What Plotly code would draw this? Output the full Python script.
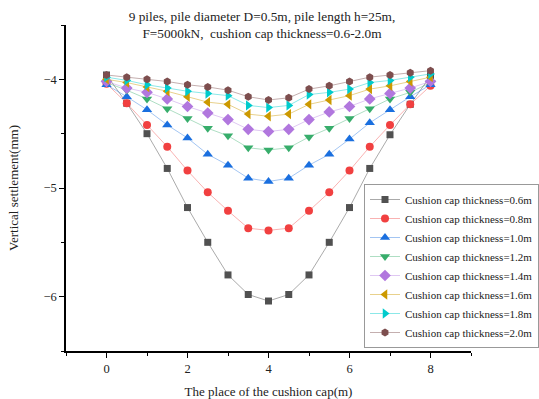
import plotly.graph_objects as go

# Position along the cushion cap (m)
place = [0, 0.5, 1, 1.5, 2, 2.5, 3, 3.5, 4, 4.5, 5, 5.5, 6, 6.5, 7, 7.5, 8]

# Vertical settlement (mm) for each cushion cap thickness
s_06 = [-3.96, -4.22, -4.50, -4.82, -5.18, -5.50, -5.80, -5.98, -6.04, -5.98, -5.80, -5.50, -5.18, -4.82, -4.51, -4.23, -3.97]
s_08 = [-4.04, -4.22, -4.42, -4.62, -4.84, -5.04, -5.21, -5.37, -5.39, -5.37, -5.21, -5.04, -4.84, -4.62, -4.42, -4.23, -4.06]
s_10 = [-4.05, -4.16, -4.28, -4.42, -4.54, -4.69, -4.79, -4.91, -4.94, -4.91, -4.79, -4.69, -4.55, -4.40, -4.28, -4.16, -4.05]
s_12 = [-4.03, -4.10, -4.18, -4.27, -4.36, -4.45, -4.52, -4.63, -4.65, -4.63, -4.53, -4.45, -4.36, -4.27, -4.18, -4.12, -4.03]
s_14 = [-4.02, -4.08, -4.12, -4.18, -4.25, -4.31, -4.37, -4.46, -4.48, -4.46, -4.37, -4.30, -4.25, -4.18, -4.13, -4.08, -4.02]
s_16 = [-4.00, -4.03, -4.07, -4.11, -4.16, -4.21, -4.23, -4.32, -4.34, -4.32, -4.23, -4.19, -4.15, -4.09, -4.06, -4.02, -3.98]
s_18 = [-3.98, -4.01, -4.05, -4.08, -4.11, -4.13, -4.15, -4.24, -4.26, -4.24, -4.14, -4.12, -4.09, -4.03, -4.01, -3.98, -3.95]
s_20 = [-3.96, -3.98, -4.00, -4.02, -4.05, -4.07, -4.10, -4.16, -4.19, -4.17, -4.09, -4.06, -4.02, -3.98, -3.96, -3.94, -3.92]

series_names = [
    "Cushion cap thickness=0.6m",
    "Cushion cap thickness=0.8m",
    "Cushion cap thickness=1.0m",
    "Cushion cap thickness=1.2m",
    "Cushion cap thickness=1.4m",
    "Cushion cap thickness=1.6m",
    "Cushion cap thickness=1.8m",
    "Cushion cap thickness=2.0m",
]
series_values = [s_06, s_08, s_10, s_12, s_14, s_16, s_18, s_20]

colors = ["#515151", "#F14040", "#1A6FDF", "#37AD6B", "#B177DE", "#CC9900", "#00CBCC", "#7D4E4E"]
line_colors = ["rgba(81,81,81,0.55)", "rgba(241,64,64,0.45)", "rgba(26,111,223,0.45)",
               "rgba(55,173,107,0.45)", "rgba(177,119,222,0.45)", "rgba(204,153,0,0.5)",
               "rgba(0,203,204,0.5)", "rgba(125,78,78,0.5)"]
symbols = ["square", "circle", "triangle-up", "triangle-down", "diamond",
           "triangle-left", "triangle-right", "hexagon"]
sizes = [7, 8, 9, 9, 9, 9, 9, 8]

SERIF = "Liberation Serif"

fig = go.Figure()
for name, vals, col, lcol, sym, sz in zip(series_names, series_values, colors, line_colors, symbols, sizes):
    fig.add_trace(go.Scatter(
        x=place, y=vals, name=name, mode="lines+markers",
        line=dict(color=lcol, width=0.9),
        marker=dict(symbol=sym, size=sz, color=col, line=dict(width=0)),
    ))

axis_common = dict(
    showgrid=False, zeroline=False, showline=True, linecolor="black", linewidth=1.5,
    ticks="outside", ticklen=5, tickwidth=1.3, tickcolor="black",
    tickfont=dict(family=SERIF, size=12.5, color="#222"),
    mirror=False,
)

fig.update_layout(
    width=539, height=399,
    margin=dict(l=66, r=68, t=25, b=48, autoexpand=False),
    paper_bgcolor="white", plot_bgcolor="white",
    title=dict(
        text="9 piles, pile diameter D=0.5m, pile length h=25m,<br>F=5000kN,  cushion cap thickness=0.6-2.0m",
        font=dict(family=SERIF, size=13.3, color="#222"),
        x=262 / 539, xanchor="center", xref="container",
        y=1 - 21 / 399, yanchor="top", yref="container",
    ),
    xaxis=dict(
        range=[-1, 9], tickvals=[0, 2, 4, 6, 8],
        minor=dict(ticks="outside", ticklen=3, tickwidth=1.1, tickcolor="black", dtick=1, tick0=0),
        title=dict(text="The place of the cushion cap(m)", font=dict(family=SERIF, size=13, color="#222"), standoff=12),
        **axis_common,
    ),
    yaxis=dict(
        range=[-6.5, -3.5], tickvals=[-6, -5, -4],
        minor=dict(ticks="outside", ticklen=3, tickwidth=1.1, tickcolor="black", dtick=0.5, tick0=-4),
        title=dict(text="Vertical settlement(mm)", font=dict(family=SERIF, size=13, color="#222"), standoff=22),
        **axis_common,
    ),
    legend=dict(
        xref="container", yref="container",
        x=1.008, xanchor="right", y=1 - 184 / 399, yanchor="top",
        bgcolor="white", bordercolor="#999", borderwidth=1,
        font=dict(family=SERIF, size=11, color="#222"),
        itemwidth=30, tracegroupgap=0,
    ),
    showlegend=True,
)

fig.write_html("out.html")
